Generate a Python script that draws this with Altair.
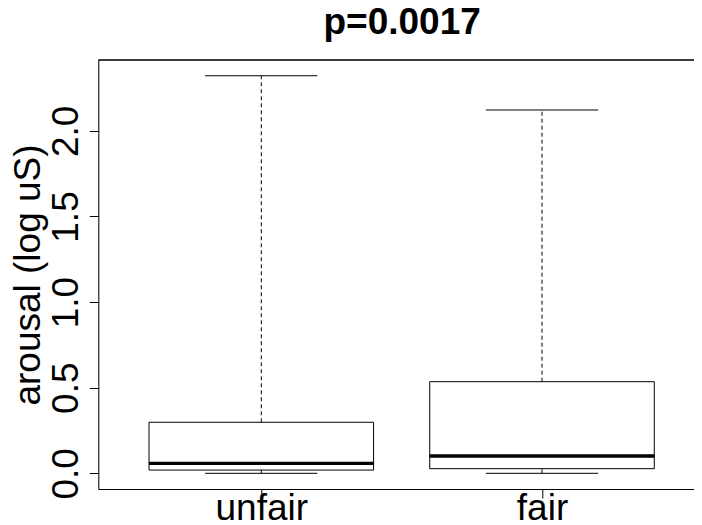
import altair as alt
import pandas as pd

categories = ["unfair", "fair"]
positions = [1, 2]
lower_whisker = [0.0, 0.0]
q1 = [0.019, 0.027]
median = [0.058, 0.101]
q3 = [0.298, 0.535]
upper_whisker = [2.322, 2.122]
y_ticks = [0.0, 0.5, 1.0, 1.5, 2.0]
title_text = "p=0.0017"
y_title = "arousal (log uS)"

df = pd.DataFrame({
    "cat": categories,
    "pos": positions,
    "lo": lower_whisker,
    "q1": q1,
    "med": median,
    "q3": q3,
    "hi": upper_whisker,
})

FONT = "Liberation Sans"
W, H = 595.7, 429
XDOM = [0.4193, 0.4193 + 595.7 / 280.7]
YDOM = [-0.0917, 2.414]

label_expr = f"datum.value == 1 ? '{categories[0]}' : '{categories[1]}'"

xscale = alt.Scale(domain=XDOM, nice=False, zero=False)
yscale = alt.Scale(domain=YDOM, nice=False, zero=False)

base = alt.Chart(df).transform_calculate(
    bx1="datum.pos - 0.4", bx2="datum.pos + 0.4",
    cx1="datum.pos - 0.2", cx2="datum.pos + 0.2",
)

xaxis = alt.Axis(values=positions, labelExpr=label_expr, title=None, grid=False,
                 tickSize=9, labelFontSize=37, labelFont=FONT, labelColor="black",
                 labelPadding=21.5, labelBaseline="alphabetic", labelAngle=0,
                 domainColor="black", tickColor="black", domainWidth=1, tickWidth=1,
                 labelFlush=False, labelOverlap=False)
yaxis = alt.Axis(values=y_ticks, format=".1f", title=y_title, grid=False,
                 tickSize=9, labelFontSize=37, labelFont=FONT, labelColor="black",
                 labelAngle=-90, labelAlign="center", labelBaseline="alphabetic",
                 labelPadding=12, labelFlush=False, labelOverlap=False,
                 domainColor="black", tickColor="black", domainWidth=1, tickWidth=1,
                 titleFontSize=37, titleFont=FONT, titleFontWeight="normal",
                 titleColor="black", titleAngle=270, titleAlign="center",
                 titleBaseline="alphabetic", titleX=-58.8, titleY=214.5)

box = base.mark_rect(fill="white", stroke="black", strokeWidth=1).encode(
    x=alt.X("bx1:Q", scale=xscale, axis=xaxis),
    x2="bx2:Q",
    y=alt.Y("q1:Q", scale=yscale, axis=yaxis),
    y2="q3:Q",
)

upper = base.mark_rule(color="black", strokeWidth=1, strokeDash=[4, 3]).encode(
    x="pos:Q", y="q3:Q", y2="hi:Q")
lower = base.mark_rule(color="black", strokeWidth=1, strokeDash=[4, 3]).encode(
    x="pos:Q", y="lo:Q", y2="q1:Q")
cap_hi = base.mark_rule(color="black", strokeWidth=1).encode(
    x="cx1:Q", x2="cx2:Q", y="hi:Q")
cap_lo = base.mark_rule(color="black", strokeWidth=1).encode(
    x="cx1:Q", x2="cx2:Q", y="lo:Q")
med = base.mark_rule(color="black", strokeWidth=3.3).encode(
    x="bx1:Q", x2="bx2:Q", y="med:Q")
top_frame = alt.Chart(df).mark_rule(color="black", strokeWidth=1).encode(
    x=alt.value(0), x2=alt.value(W), y=alt.value(0))

chart = alt.layer(box, upper, lower, cap_hi, cap_lo, med, top_frame).properties(
    width=W, height=H,
    title=alt.TitleParams(title_text, fontSize=37, fontWeight="bold", font=FONT,
                          color="black", anchor="middle", baseline="alphabetic",
                          offset=0, dy=11, dx=6),
    autosize=alt.AutoSizeParams(type="none"),
    padding={"left": 90.3, "top": 52, "right": 0, "bottom": 36},
).configure_view(strokeWidth=0).configure(background="white")

chart.save("out.html", embed_options={"renderer": "svg", "actions": False})
